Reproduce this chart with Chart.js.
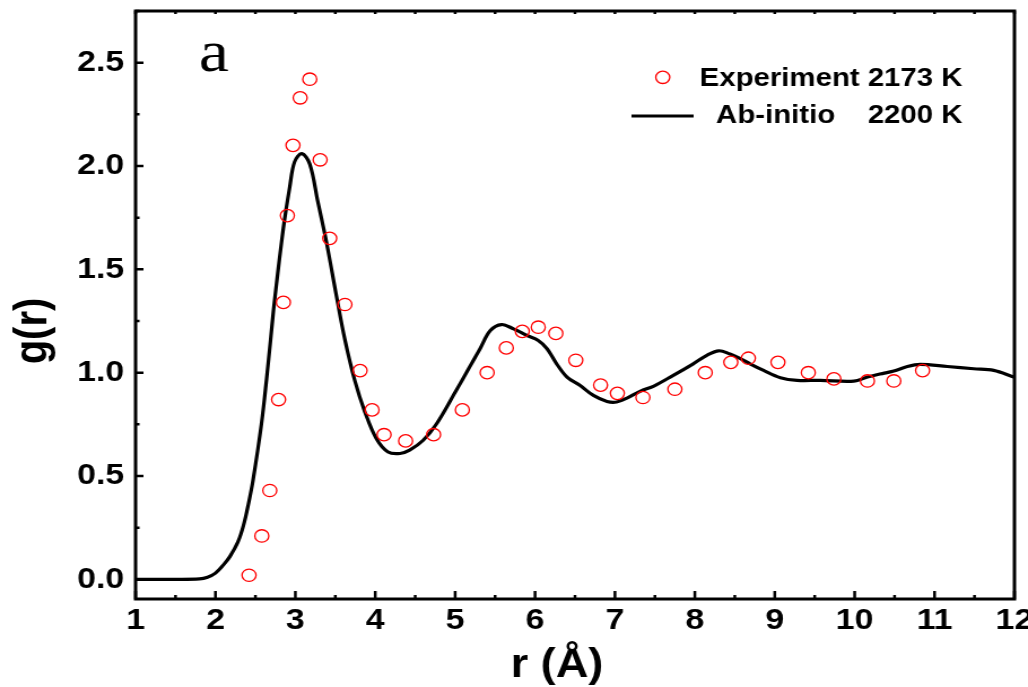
<!DOCTYPE html>
<html>
<head>
<meta charset="utf-8">
<script src="https://cdn.jsdelivr.net/npm/chart.js@4.4.1/dist/chart.umd.min.js"></script>
<style>
  html, body { margin: 0; padding: 0; background: #fff; overflow: hidden; }
  /* the figure is drawn narrow and stretched sideways, like the original plot */
  #wrap { width: 910px; height: 687px; transform: scaleX(1.12967); transform-origin: 0 0; }
</style>
</head>
<body>
<div id="wrap"><canvas id="rdf" width="910" height="687"></canvas></div>
<script>
// experimental g(r) at 2173 K
const expR = [2.42, 2.58, 2.68, 2.79, 2.85, 2.90, 2.97, 3.06, 3.18, 3.31, 3.43, 3.62, 3.81, 3.96, 4.11, 4.38, 4.73,
  5.09, 5.40, 5.64, 5.84, 6.04, 6.26, 6.51, 6.82, 7.03, 7.35, 7.75, 8.13, 8.45, 8.67, 9.04, 9.42, 9.74, 10.16, 10.49, 10.85];
const expG = [0.02, 0.21, 0.43, 0.87, 1.34, 1.76, 2.10, 2.33, 2.42, 2.03, 1.65, 1.33, 1.01, 0.82, 0.70, 0.67, 0.70,
  0.82, 1.00, 1.12, 1.20, 1.22, 1.19, 1.06, 0.94, 0.90, 0.88, 0.92, 1.00, 1.05, 1.07, 1.05, 1.00, 0.97, 0.96, 0.96, 1.01];

// ab-initio g(r) at 2200 K
const abR = [1.0, 1.5, 1.8, 1.9, 2.0, 2.1, 2.18, 2.28, 2.35, 2.41, 2.47, 2.575, 2.64, 2.69, 2.74, 2.85, 2.93, 2.99, 3.08,
  3.18, 3.28, 3.39, 3.51, 3.62, 3.745, 3.87, 4.015, 4.16, 4.31, 4.43, 4.60, 4.77, 5.0, 5.17, 5.31, 5.44, 5.58, 5.73,
  5.90, 6.04, 6.15, 6.27, 6.40, 6.56, 6.73, 6.90, 7.02, 7.15, 7.32, 7.48, 7.73, 7.98, 8.15, 8.30, 8.44, 8.57, 8.69,
  8.86, 9.07, 9.28, 9.57, 9.99, 10.16, 10.37, 10.49, 10.66, 10.82, 11.16, 11.49, 11.74, 11.99, 12.0];
const abG = [0.0, 0.0, 0.002, 0.01, 0.03, 0.07, 0.11, 0.18, 0.26, 0.36, 0.48, 0.75, 0.97, 1.16, 1.35, 1.70, 1.90, 2.02, 2.06,
  2.01, 1.83, 1.63, 1.38, 1.16, 0.96, 0.81, 0.68, 0.616, 0.609, 0.625, 0.673, 0.754, 0.905, 1.02, 1.115, 1.204, 1.233, 1.212,
  1.18, 1.156, 1.116, 1.043, 0.979, 0.939, 0.89, 0.861, 0.858, 0.877, 0.911, 0.934, 0.987, 1.043, 1.084, 1.106, 1.09, 1.068, 1.043,
  1.011, 0.976, 0.963, 0.963, 0.959, 0.979, 0.998, 1.008, 1.03, 1.04, 1.03, 1.019, 1.011, 0.979, 0.978];

const xTicks = [1, 2, 3, 4, 5, 6, 7, 8, 9, 10, 11, 12];
const yTicks = [0.0, 0.5, 1.0, 1.5, 2.0, 2.5];

const FONT = '"Liberation Sans", Arial, sans-serif';

// box around the plot, inward ticks, legend, axis titles and panel letter
const framePlugin = {
  id: 'frame',
  afterDraw(chart) {
    const ctx = chart.ctx;
    const { left, right, top, bottom } = chart.chartArea;
    const xs = chart.scales.x, ys = chart.scales.y;
    ctx.save();
    ctx.strokeStyle = '#000';
    ctx.lineWidth = 3;
    ctx.strokeRect(left, top, right - left, bottom - top);

    ctx.lineWidth = 2.5;
    ctx.beginPath();
    for (let i = 0; i < xTicks.length; i++) {
      const px = xs.getPixelForValue(xTicks[i]);
      ctx.moveTo(px, bottom); ctx.lineTo(px, bottom - 8);
      ctx.moveTo(px, top); ctx.lineTo(px, top + 3);
      if (i < xTicks.length - 1) {
        const mx = xs.getPixelForValue((xTicks[i] + xTicks[i + 1]) / 2);
        ctx.moveTo(mx, bottom); ctx.lineTo(mx, bottom - 4);
        ctx.moveTo(mx, top); ctx.lineTo(mx, top + 3);
      }
    }
    for (let i = 0; i < yTicks.length; i++) {
      const py = ys.getPixelForValue(yTicks[i]);
      ctx.moveTo(left, py); ctx.lineTo(left + 7, py);
      const my = ys.getPixelForValue(yTicks[i] + 0.25);
      ctx.moveTo(left, my); ctx.lineTo(left + 3.5, my);
    }
    ctx.stroke();

    // legend
    const [expSet, abSet] = chart.data.datasets;
    ctx.font = 'bold 26px ' + FONT;
    ctx.fillStyle = '#000';
    ctx.textAlign = 'right';
    ctx.textBaseline = 'alphabetic';
    ctx.beginPath();
    ctx.strokeStyle = expSet.borderColor;
    ctx.lineWidth = expSet.borderWidth;
    ctx.arc(586.7, 77.3, expSet.pointRadius, 0, Math.PI * 2);
    ctx.stroke();
    ctx.fillText(expSet.label, 852, 85.7);
    ctx.beginPath();
    ctx.strokeStyle = abSet.borderColor;
    ctx.lineWidth = abSet.borderWidth;
    ctx.moveTo(559, 116); ctx.lineTo(614, 116);
    ctx.stroke();
    ctx.fillText(abSet.label, 852, 123.3);

    // axis titles
    ctx.font = 'bold 40px ' + FONT;
    ctx.textAlign = 'center';
    ctx.fillText('r (Å)', 493, 677);
    ctx.save();
    ctx.translate(41, 331);
    ctx.rotate(-Math.PI / 2);
    ctx.fillText('g(r)', 0, 0);
    ctx.restore();

    // panel letter
    ctx.font = '60px "Liberation Serif", "Times New Roman", serif';
    ctx.textAlign = 'left';
    ctx.fillText('a', 176, 71);
    ctx.restore();
  }
};

new Chart(document.getElementById('rdf'), {
  type: 'scatter',
  data: {
    datasets: [
      {
        label: 'Experiment 2173 K',
        data: expR.map((r, i) => ({ x: r, y: expG[i] })),
        borderColor: '#ff0000',
        backgroundColor: 'rgba(0,0,0,0)',
        borderWidth: 1.3,
        pointRadius: 6.2,
        pointStyle: 'circle',
        showLine: false
      },
      {
        label: 'Ab-initio    2200 K',
        data: abR.map((r, i) => ({ x: r, y: abG[i] })),
        borderColor: '#000',
        borderWidth: 3.2,
        pointRadius: 0,
        showLine: true,
        tension: 0.35
      }
    ]
  },
  options: {
    responsive: false,
    animation: false,
    events: [],
    layout: { padding: { top: 11, right: 12, left: 0, bottom: 0 } },
    plugins: { legend: { display: false }, tooltip: { enabled: false } },
    scales: {
      x: {
        type: 'linear',
        min: 1, max: 12,
        grid: { display: false, drawTicks: false },
        border: { display: false },
        ticks: {
          stepSize: 1,
          includeBounds: false,
          padding: 4,
          color: '#000',
          font: { family: FONT, size: 30, weight: 'bold' }
        },
        afterFit(scale) {
          scale.height = 88;
          scale.paddingLeft = 0;
          scale.paddingRight = 0;
        }
      },
      y: {
        type: 'linear',
        min: -0.095, max: 2.75,
        grid: { display: false, drawTicks: false },
        border: { display: false },
        ticks: {
          stepSize: 0.5,
          includeBounds: false,
          padding: 10,
          color: '#000',
          font: { family: FONT, size: 30, weight: 'bold' },
          callback: v => v.toFixed(1)
        },
        afterFit(scale) {
          scale.width = 120;
          scale.paddingTop = 0;
          scale.paddingBottom = 0;
        }
      }
    }
  },
  plugins: [framePlugin]
});
</script>
</body>
</html>
